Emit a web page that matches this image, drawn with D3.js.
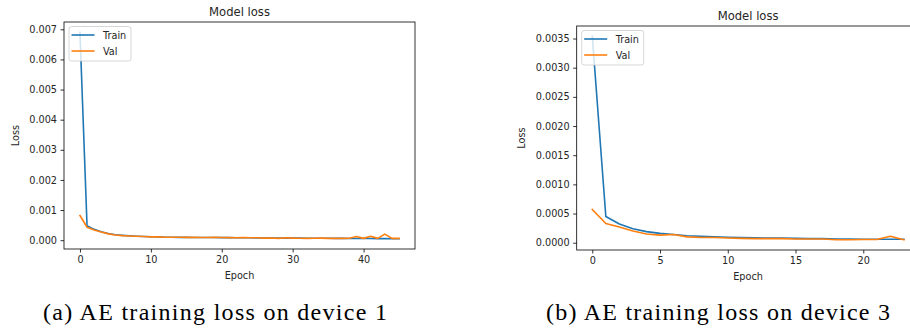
<!DOCTYPE html>
<html>
<head>
<meta charset="utf-8">
<script src="https://cdn.jsdelivr.net/npm/d3@7"></script>
<style>
  html, body { margin: 0; padding: 0; background: #ffffff; }
  svg { display: block; }
  .tick text { font-family: "DejaVu Sans", sans-serif; }
</style>
</head>
<body>
<svg id="chart" width="910" height="335"></svg>
<script>
// ---------- data ----------
const epochs1 = d3.range(0, 46);
const train1 = [0.0069, 0.00048, 0.00036, 0.00028, 0.00022, 0.00018, 0.00016, 0.000145, 0.00013, 0.00012,
  0.000115, 0.00011, 0.0001, 0.0001, 0.000095, 0.000095, 0.00009, 0.00009, 0.00009, 0.000088,
  0.000085, 0.000085, 0.000082, 0.00008, 0.00008, 0.000078, 0.000075, 0.000075, 0.000072, 0.00007,
  0.00007, 0.000068, 0.000066, 0.000065, 0.000064, 0.000062, 0.00006, 0.00006, 0.000058, 0.000056,
  0.000055, 0.000054, 0.000053, 0.000052, 0.00005, 0.00005];
const val1 = [0.00082, 0.00043, 0.00034, 0.00027, 0.00021, 0.00017, 0.00015, 0.00014, 0.00013, 0.00012,
  0.00011, 0.00011, 0.0001, 0.0001, 0.0001, 0.000095, 0.0001, 0.00009, 0.00009, 0.000095,
  0.00009, 0.000085, 0.00008, 0.000085, 0.00008, 0.00008, 0.00007, 0.000075, 0.00006, 0.00008,
  0.00007, 0.000065, 0.00006, 0.000065, 0.00007, 0.00006, 0.00006, 0.00006, 0.000065, 0.00012,
  0.00006, 0.00013, 0.00006, 0.0002, 0.00006, 0.00006];
const xTicks1 = [0, 10, 20, 30, 40];
const yTicks1 = [0, 0.001, 0.002, 0.003, 0.004, 0.005, 0.006, 0.007];

const epochs3 = d3.range(0, 24);
const train3 = [0.00354, 0.00045, 0.00032, 0.00024, 0.00019, 0.00016, 0.00014, 0.00012, 0.00011, 0.0001,
  0.000095, 0.00009, 0.000085, 0.00008, 0.00008, 0.000075, 0.00007, 0.00007, 0.000065, 0.000065,
  0.00006, 0.00006, 0.00006, 0.00006];
const val3 = [0.00057, 0.00033, 0.00027, 0.0002, 0.00015, 0.00013, 0.00014, 0.0001, 0.00009, 0.00009,
  0.00008, 0.000075, 0.00007, 0.00007, 0.00007, 0.000065, 0.000065, 0.000065, 0.00005, 0.00005,
  0.000055, 0.000055, 0.00011, 0.00005];
const xTicks3 = [0, 5, 10, 15, 20];
const yTicks3 = [0, 0.0005, 0.001, 0.0015, 0.002, 0.0025, 0.003, 0.0035];

const seriesNames = ["Train", "Val"];
const seriesColors = ["#1f77b4", "#ff7f0e"];
const titleText = "Model loss";
const xLabelText = "Epoch";
const yLabelText = "Loss";
const captions = ["(a) AE training loss on device 1", "(b) AE training loss on device 3"];

// ---------- drawing ----------
const svg = d3.select("#chart");
const FS = 9.7;

function panel(opt) {
  const {left, right, top, bottom, epochs, train, val, xTicks, yTicks, yFmt} = opt;
  const g = svg.append("g");
  const xExt = d3.extent(epochs);
  const xPad = (xExt[1] - xExt[0]) * 0.05;
  const all = train.concat(val);
  const yExt = d3.extent(all);
  const yPad = (yExt[1] - yExt[0]) * 0.05;
  const x = d3.scaleLinear().domain([xExt[0] - xPad, xExt[1] + xPad]).range([left, right]);
  const y = d3.scaleLinear().domain([yExt[0] - yPad, yExt[1] + yPad]).range([bottom, top]);

  const clipId = "clip" + Math.round(left);
  svg.append("clipPath").attr("id", clipId).append("rect")
    .attr("x", left).attr("y", top).attr("width", right - left).attr("height", bottom - top);

  const line = d3.line().x((d, i) => x(epochs[i])).y(d => y(d));
  const plot = g.append("g").attr("clip-path", `url(#${clipId})`);
  [train, val].forEach((s, k) => {
    plot.append("path").datum(s).attr("d", line)
      .attr("fill", "none").attr("stroke", seriesColors[k])
      .attr("stroke-width", 1.6).attr("stroke-linejoin", "round").attr("stroke-linecap", "square");
  });

  // axes
  const xAxis = d3.axisBottom(x).tickValues(xTicks).tickFormat(d3.format("d")).tickSizeOuter(0).tickSize(3.5).tickPadding(3.5);
  const yAxis = d3.axisLeft(y).tickValues(yTicks).tickFormat(d3.format(yFmt)).tickSizeOuter(0).tickSize(3.5).tickPadding(3.5);
  const gx = g.append("g").attr("transform", `translate(0,${bottom})`).call(xAxis);
  const gy = g.append("g").attr("transform", `translate(${left},0)`).call(yAxis);
  [gx, gy].forEach(a => {
    a.select(".domain").remove();
    a.selectAll(".tick line").attr("stroke", "#000").attr("stroke-width", 0.8);
    a.selectAll(".tick text").attr("font-size", FS).attr("fill", "#262626");
  });

  // spines
  g.append("rect").attr("x", left).attr("y", top).attr("width", right - left).attr("height", bottom - top)
    .attr("fill", "none").attr("stroke", "#000").attr("stroke-width", 0.8);

  // title & labels
  g.append("text").attr("x", (left + right) / 2).attr("y", top - 6)
    .attr("text-anchor", "middle").attr("font-family", "DejaVu Sans").attr("font-size", 11.6)
    .attr("fill", "#262626").text(titleText);
  g.append("text").attr("x", (left + right) / 2).attr("y", bottom + 30)
    .attr("text-anchor", "middle").attr("font-family", "DejaVu Sans").attr("font-size", FS)
    .attr("fill", "#262626").text(xLabelText);
  g.append("text").attr("transform", `translate(${opt.yLabelX},${(top + bottom) / 2}) rotate(-90)`)
    .attr("text-anchor", "middle").attr("font-family", "DejaVu Sans").attr("font-size", FS)
    .attr("fill", "#262626").text(yLabelText);

  // legend
  const lg = g.append("g").attr("transform", `translate(${left + 5},${top + 4.5})`);
  lg.append("rect").attr("x", 0).attr("y", 0).attr("width", 62).attr("height", 34.5)
    .attr("rx", 2.5).attr("fill", "#ffffff").attr("fill-opacity", 0.8)
    .attr("stroke", "#cccccc").attr("stroke-width", 0.8);
  seriesNames.forEach((n, k) => {
    const cy = 8.5 + k * 16;
    lg.append("line").attr("x1", 2.5).attr("x2", 25.5).attr("y1", cy).attr("y2", cy)
      .attr("stroke", seriesColors[k]).attr("stroke-width", 1.6);
    lg.append("text").attr("x", 34).attr("y", cy + 3.5)
      .attr("font-family", "DejaVu Sans").attr("font-size", FS).attr("fill", "#262626").text(n);
  });
}

panel({left: 64, right: 415, top: 22, bottom: 249, epochs: epochs1, train: train1, val: val1,
  xTicks: xTicks1, yTicks: yTicks1, yFmt: ".3f", yLabelX: 18.5});
panel({left: 576.7, right: 919.5, top: 26, bottom: 250, epochs: epochs3, train: train3, val: val3,
  xTicks: xTicks3, yTicks: yTicks3, yFmt: ".4f", yLabelX: 524.5});

// captions
[[43, captions[0]], [546, captions[1]]].forEach(([cx, t]) => {
  svg.append("text").attr("x", cx).attr("y", 320).attr("font-family", "Liberation Serif, serif")
    .attr("font-size", 24).attr("textLength", 344).attr("lengthAdjust", "spacing")
    .attr("fill", "#000").text(t);
});
</script>
</body>
</html>
